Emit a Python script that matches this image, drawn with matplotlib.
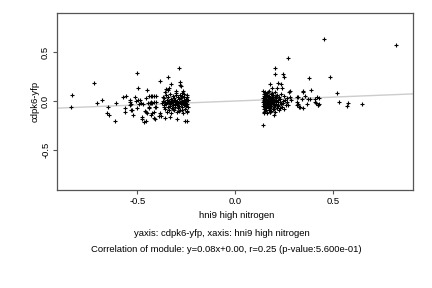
import numpy as np
import matplotlib
matplotlib.use("Agg")
import matplotlib.pyplot as plt

plt.rcParams['font.family'] = ['Liberation Sans', 'DejaVu Sans']

# 左クラスタ（疎な点）
left_sparse = [
    (-0.832, 0.061), (-0.837, -0.061), (-0.721, 0.184), (-0.708, -0.024),
    (-0.682, 0.010), (-0.651, -0.061), (-0.656, -0.125), (-0.646, -0.143),
    (-0.614, -0.204), (-0.609, -0.020), (-0.573, 0.044), (-0.558, 0.054),
    (-0.565, -0.071), (-0.565, -0.112), (-0.537, -0.010), (-0.531, -0.031),
    (-0.534, -0.092), (-0.524, -0.143), (-0.510, 0.044), (-0.498, 0.129),
    (-0.503, 0.287), (-0.505, 0.000), (-0.495, 0.010), (-0.500, -0.075),
    (-0.490, -0.030), (-0.480, -0.025), (-0.472, -0.028), (-0.478, -0.187),
    (-0.463, -0.211), (-0.457, -0.205), (-0.460, -0.098), (-0.453, -0.110),
    (-0.448, -0.120), (-0.445, -0.020), (-0.437, -0.020), (-0.430, -0.020),
    (-0.423, -0.020), (-0.440, 0.050), (-0.432, 0.050), (-0.422, 0.050),
    (-0.438, -0.060), (-0.425, -0.125), (-0.430, -0.140), (-0.408, -0.187),
    (-0.390, -0.153), (-0.381, 0.204), (-0.450, 0.112), (-0.457, 0.027),
    (-0.442, -0.075), (-0.485, 0.010), (-0.478, -0.167), (-0.536, 0.010),
    (-0.537, -0.041), (-0.527, -0.092), (-0.343, 0.245), (-0.284, 0.333),
    (-0.325, 0.177), (-0.352, 0.120), (-0.345, 0.110), (-0.340, 0.130),
    (-0.283, 0.190), (-0.280, 0.163), (-0.275, 0.150), (-0.300, 0.100),
    (-0.270, 0.080), (-0.265, 0.100), (-0.413, 0.048), (-0.403, 0.048),
    (-0.427, -0.013), (-0.413, -0.013), (-0.403, -0.013), (-0.408, -0.061),
    (-0.403, -0.061), (-0.413, -0.109), (-0.413, -0.170), (-0.380, -0.150),
    (-0.360, -0.170), (-0.330, -0.160), (-0.295, -0.180), (-0.258, -0.200),
    (-0.246, -0.200), (-0.385, -0.120),
]

# 左クラスタ（密集部）
left_dense = [
    (-0.372, -0.020), (-0.368, 0.005), (-0.365, -0.045), (-0.362, 0.030),
    (-0.360, -0.080), (-0.357, -0.010), (-0.355, 0.060), (-0.352, -0.035),
    (-0.350, -0.110), (-0.347, 0.015), (-0.345, -0.060), (-0.342, 0.045),
    (-0.340, -0.025), (-0.338, -0.090), (-0.335, 0.000), (-0.333, 0.075),
    (-0.331, -0.050), (-0.329, -0.015), (-0.327, 0.025), (-0.325, -0.125),
    (-0.323, -0.070), (-0.321, 0.010), (-0.319, -0.040), (-0.317, 0.055),
    (-0.315, -0.005), (-0.313, -0.095), (-0.311, 0.035), (-0.309, -0.030),
    (-0.307, -0.060), (-0.305, 0.015), (-0.303, 0.085), (-0.301, -0.015),
    (-0.299, -0.045), (-0.297, -0.110), (-0.295, 0.005), (-0.293, 0.040),
    (-0.291, -0.075), (-0.289, -0.025), (-0.287, 0.020), (-0.285, -0.055),
    (-0.283, 0.065), (-0.281, -0.005), (-0.279, -0.090), (-0.277, 0.030),
    (-0.275, -0.035), (-0.273, 0.000), (-0.271, -0.065), (-0.269, 0.050),
    (-0.267, -0.020), (-0.265, -0.120), (-0.263, 0.010), (-0.261, -0.045),
    (-0.259, 0.075), (-0.257, -0.080), (-0.255, -0.010), (-0.253, 0.025),
    (-0.251, -0.055), (-0.249, 0.000), (-0.247, -0.100), (-0.245, 0.040),
    (-0.243, -0.030), (-0.241, -0.065), (-0.242, 0.015), (-0.248, 0.060),
    (-0.262, 0.045), (-0.278, -0.010), (-0.292, -0.020), (-0.306, 0.000),
    (-0.320, -0.010), (-0.334, -0.030), (-0.348, -0.005), (-0.362, -0.060),
    (-0.370, 0.040), (-0.356, 0.090), (-0.288, -0.100), (-0.270, -0.095),
    (-0.252, -0.030), (-0.244, -0.115), (-0.300, 0.060), (-0.316, -0.085),
]

# 右クラスタ（疎な点）
right_sparse = [
    (0.456, 0.633), (0.821, 0.571), (0.272, 0.437), (0.207, 0.337),
    (0.207, 0.276), (0.245, 0.276), (0.250, 0.250), (0.379, 0.233),
    (0.485, 0.243), (0.180, 0.173), (0.221, 0.184), (0.235, 0.173),
    (0.522, 0.080), (0.532, -0.012), (0.577, -0.024), (0.573, -0.051),
    (0.650, -0.033), (0.145, -0.245), (0.277, 0.095), (0.349, 0.095),
    (0.391, 0.112), (0.417, 0.044), (0.425, -0.041), (0.430, -0.030),
    (0.357, 0.054), (0.315, 0.038), (0.332, -0.058), (0.349, -0.075),
    (0.366, -0.034), (0.383, 0.020), (0.408, -0.007), (0.315, -0.041),
    (0.349, 0.106), (0.320, 0.044), (0.318, -0.007), (0.320, -0.030),
    (0.342, 0.024), (0.375, 0.020), (0.408, 0.017), (0.413, -0.024),
    (0.422, -0.041), (0.430, 0.027), (0.325, -0.058), (0.281, 0.044),
    (0.286, 0.010), (0.272, -0.041), (0.279, 0.106), (0.190, 0.129),
    (0.216, 0.129), (0.241, 0.136), (0.180, -0.116), (0.199, -0.143),
    (0.148, -0.115),
]

# 右クラスタ（密集部）
right_dense = [
    (0.142, -0.010), (0.144, 0.030), (0.145, -0.050), (0.146, 0.070),
    (0.147, -0.085), (0.148, 0.010), (0.149, -0.030), (0.150, 0.050),
    (0.151, -0.065), (0.152, 0.090), (0.153, -0.005), (0.154, -0.105),
    (0.155, 0.025), (0.156, -0.040), (0.157, 0.060), (0.158, -0.020),
    (0.159, 0.005), (0.160, -0.075), (0.161, 0.040), (0.162, -0.010),
    (0.163, 0.080), (0.164, -0.050), (0.165, 0.015), (0.166, -0.120),
    (0.167, -0.030), (0.168, 0.045), (0.169, 0.000), (0.170, -0.060),
    (0.171, 0.025), (0.172, 0.100), (0.173, -0.015), (0.174, -0.090),
    (0.175, 0.055), (0.176, -0.040), (0.177, 0.010), (0.178, -0.070),
    (0.179, 0.035), (0.180, -0.005), (0.182, 0.070), (0.183, -0.030),
    (0.184, -0.100), (0.185, 0.020), (0.186, -0.050), (0.188, 0.045),
    (0.189, -0.015), (0.190, 0.085), (0.192, -0.080), (0.193, 0.005),
    (0.194, -0.035), (0.196, 0.060), (0.197, -0.060), (0.198, 0.015),
    (0.200, -0.010), (0.202, 0.040), (0.203, -0.045), (0.205, 0.095),
    (0.206, -0.110), (0.208, 0.000), (0.210, -0.030), (0.212, 0.030),
    (0.214, -0.070), (0.216, 0.065), (0.218, -0.015), (0.220, 0.010),
    (0.222, -0.050), (0.224, 0.045), (0.226, -0.090), (0.228, -0.005),
    (0.231, 0.025), (0.234, -0.035), (0.237, 0.075), (0.240, -0.060),
    (0.243, 0.005), (0.246, -0.025), (0.249, 0.050), (0.252, -0.080),
    (0.256, 0.015), (0.260, -0.040), (0.264, 0.035), (0.268, -0.010),
    (0.143, 0.105), (0.150, -0.125), (0.146, 0.000), (0.152, 0.040),
    (0.158, -0.090), (0.164, 0.065), (0.170, -0.035), (0.176, 0.030),
    (0.181, -0.110), (0.187, 0.000), (0.195, 0.020), (0.201, -0.085),
    (0.211, 0.050), (0.219, -0.040), (0.230, -0.070), (0.155, 0.075),
    (0.161, -0.055), (0.167, 0.090), (0.173, 0.005), (0.179, -0.045),
]

# 回帰直線 y = a*x + b
slope = 0.08
intercept = 0.0

x_label = "hni9 high nitrogen"
y_label = "cdpk6-yfp"
line2 = "yaxis: cdpk6-yfp, xaxis: hni9 high nitrogen"
line3 = "Correlation of module: y=0.08x+0.00, r=0.25 (p-value:5.600e-01)"

pts = np.array(left_sparse + left_dense + right_sparse + right_dense)

fig = plt.figure(figsize=(4.32, 2.88), dpi=100)
ax = fig.add_axes([0.132, 0.340, 0.824, 0.615])

xlim = (-0.91, 0.91)
ylim = (-0.91, 0.90)
ax.set_xlim(*xlim)
ax.set_ylim(*ylim)

xx = np.array(xlim)
ax.plot(xx, slope * xx + intercept, color="#cccccc", lw=1.0, zorder=1)
ax.plot(pts[:, 0], pts[:, 1], '+', color="black", ms=3, mew=0.8, zorder=2)

for s in ax.spines.values():
    s.set_color("#555555")
    s.set_linewidth(0.9)

ax.set_xticks([-0.5, 0.0, 0.5])
ax.set_yticks([-0.5, 0.0, 0.5])
ax.set_xticklabels(["-0.5", "0.0", "0.5"])
ax.set_yticklabels(["-0.5", "0.0", "0.5"], rotation=90, va="center")
ax.tick_params(direction="out", length=3, width=0.8, color="#555555",
               labelsize=6.8, pad=2)

fs = 6.8
fig.text(237 / 432, 1 - 215 / 288, x_label, ha="center", va="center", fontsize=fs)
fig.text(35 / 432, 1 - 101 / 288, y_label, ha="center", va="center", rotation=90, fontsize=fs)
fig.text(222 / 432, 1 - 233 / 288, line2, ha="center", va="center", fontsize=fs)
fig.text(226 / 432, 1 - 249 / 288, line3, ha="center", va="center", fontsize=fs)

fig.savefig("out.png", dpi=100)
